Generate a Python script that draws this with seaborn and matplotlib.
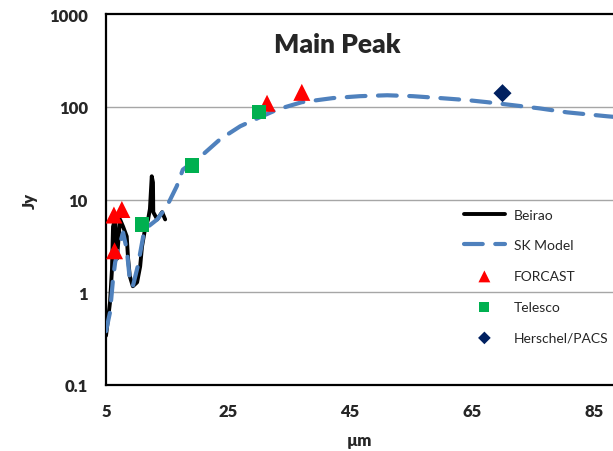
import matplotlib
matplotlib.use("Agg")
import matplotlib.pyplot as plt
import seaborn as sns
import pandas as pd

# Beirao spectrum (wavelength in um, flux in Jy)
beirao_um = [5.0, 5.66, 5.98, 6.15, 6.48, 6.8, 7.3, 7.8, 8.4, 8.6, 8.9, 9.4,
             10.1, 10.6, 10.9, 11.4, 11.9, 12.2, 12.5, 12.7, 12.75, 13.4, 14.2, 14.7]
beirao_jy = [0.34, 0.78, 1.77, 5.1, 6.1, 2.3, 6.1, 5.1, 4.0, 2.4, 1.49, 1.16,
             1.28, 1.9, 3.1, 4.8, 6.1, 7.9, 17.8, 15.3, 7.3, 6.1, 7.3, 6.1]

# SK model SED
sk_um = [5.0, 5.66, 6.15, 6.5, 7.0, 7.8, 8.4, 8.9, 9.4, 10.2, 11.1, 11.9, 13.4,
         15.0, 16.6, 17.6, 20.4, 23.7, 27.0, 30.2, 33.2, 37.1, 42.2, 46.6, 51.1,
         55.3, 59.8, 64.2, 67.5, 71.7, 76.1, 80.6, 87.1, 90.0]
sk_jy = [0.38, 0.61, 1.38, 2.1, 2.9, 4.4, 2.9, 1.38, 1.16, 1.9, 4.0, 5.1, 6.1,
         8.5, 13.9, 21.0, 28.6, 44.6, 61.6, 77.0, 94.0, 112.0, 124.0, 130.0, 133.0,
         130.0, 124.0, 118.0, 112.0, 104.0, 96.0, 87.0, 79.0, 76.0]

# Photometry
forcast_um = [6.3, 7.6, 6.4, 31.4, 37.1]
forcast_jy = [6.8, 7.8, 2.8, 109.0, 143.0]
telesco_um = [10.9, 19.1, 30.1]
telesco_jy = [5.4, 23.4, 88.0]
pacs_um = [70.0]
pacs_jy = [140.0]

x_ticks = [5, 25, 45, 65, 85]
y_ticks = [0.1, 1, 10, 100, 1000]
y_tick_labels = ["0.1", "1", "10", "100", "1000"]

sns.set_style("white")
plt.rcParams["font.family"] = ["Lato", "DejaVu Sans"]

W, H = 613, 452
fig = plt.figure(figsize=(W / 100, H / 100), dpi=100)
ax = fig.add_axes([106 / W, (H - 386) / H, (W - 106) / W, 371 / H])

beirao = pd.DataFrame({"um": beirao_um, "Jy": beirao_jy})
sk = pd.DataFrame({"um": sk_um, "Jy": sk_jy})
forcast = pd.DataFrame({"um": forcast_um, "Jy": forcast_jy})
telesco = pd.DataFrame({"um": telesco_um, "Jy": telesco_jy})
pacs = pd.DataFrame({"um": pacs_um, "Jy": pacs_jy})

for y in [1, 10, 100]:
    ax.axhline(y, color="#a6a6a6", lw=1.0, zorder=0)

sns.lineplot(data=beirao, x="um", y="Jy", sort=False, ax=ax, color="black",
             lw=2.8, label="Beirao", zorder=3)
sns.lineplot(data=sk, x="um", y="Jy", ax=ax, color="#4f81bd", lw=3.0,
             dashes=False, label="SK Model", zorder=4)
sk_line = ax.lines[-1]
sk_line.set_dashes([4.5, 3])
sk_line.set_dash_capstyle("round")
sns.scatterplot(data=forcast, x="um", y="Jy", ax=ax, marker="^", s=150,
                color="#ff0000", edgecolor="none", label="FORCAST", zorder=5)
sns.scatterplot(data=telesco, x="um", y="Jy", ax=ax, marker="s", s=110,
                color="#00b050", edgecolor="none", label="Telesco", zorder=5)
sns.scatterplot(data=pacs, x="um", y="Jy", ax=ax, marker="D", s=85,
                color="#002060", edgecolor="none", label="Herschel/PACS", zorder=5)

ax.set_yscale("log")
ax.set_ylim(0.1, 1000)
ax.set_xlim(5, 5 + (W - 106) / 6.1)
ax.set_xticks(x_ticks)
ax.set_xticklabels([str(t) for t in x_ticks])
ax.set_yticks(y_ticks)
ax.set_yticklabels(y_tick_labels)
ax.yaxis.set_minor_locator(matplotlib.ticker.NullLocator())

for side in ["left", "bottom", "top"]:
    ax.spines[side].set_color("black")
    ax.spines[side].set_linewidth(1.6)
ax.spines["right"].set_visible(False)

ax.tick_params(axis="both", direction="out", length=5, width=1.6, color="black",
               labelsize=12, pad=8)
for lab in ax.get_xticklabels() + ax.get_yticklabels():
    lab.set_fontweight("heavy")

ax.set_xlabel("µm", fontsize=12, fontweight="heavy", labelpad=9)
ax.set_ylabel("Jy", fontsize=12, fontweight="heavy", labelpad=8)
ax.text(0.457, 0.918, "Main Peak", transform=ax.transAxes, ha="center",
        va="center", fontsize=19, fontweight="heavy")

leg = ax.legend(loc="upper left", bbox_to_anchor=(458 / W, (H - 204) / H),
                bbox_transform=fig.transFigure, frameon=False, fontsize=10,
                labelspacing=1.35, handlelength=3.0, handletextpad=0.6,
                borderaxespad=0, markerscale=0.7)

fig.savefig("out.png", dpi=100)
